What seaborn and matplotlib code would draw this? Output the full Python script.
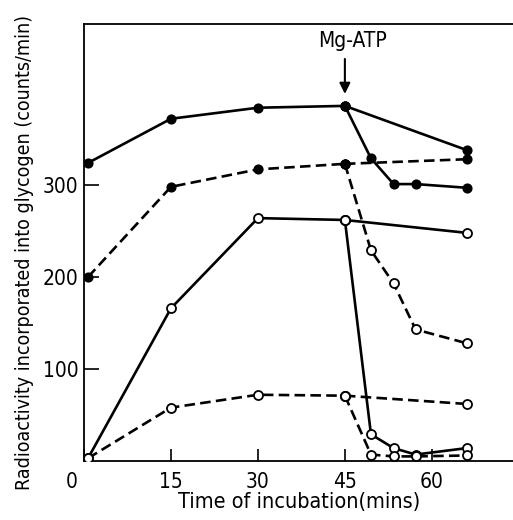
import matplotlib
matplotlib.use("Agg")
import matplotlib.pyplot as plt
import matplotlib.transforms as mtransforms
import seaborn as sns
import pandas as pd

# ---- data ----
t_pre = [0.7, 15, 30, 45]
t_ctrl = [45, 66]
t_atp = [45, 49.5, 53.4, 57.2, 66]

# series A: solid line, filled markers
a_pre = [324, 372, 384, 386]
a_ctrl = [386, 338]
a_atp = [386, 329, 301, 301, 297]
# series B: dashed line, filled markers (ATP branch open)
b_pre = [200, 298, 317, 323]
b_ctrl = [323, 328]
b_atp = [323, 229, 193, 143, 128]
# series C: solid line, open markers
c_pre = [3, 166, 264, 262]
c_ctrl = [262, 248]
c_atp = [262, 29, 14, 7, 14]
# series D: dashed line, open markers
d_pre = [3, 58, 72, 71]
d_ctrl = [71, 62]
d_atp = [71, 7, 5, 5, 6]

x_ticks = [0, 15, 30, 45, 60]
y_ticks = [100, 200, 300]

sns.set_style("ticks")
plt.rcParams['font.family'] = ['DejaVu Sans']
plt.rcParams['font.stretch'] = 'condensed'
plt.rcParams['text.color'] = 'black'
plt.rcParams['xtick.color'] = 'black'
plt.rcParams['ytick.color'] = 'black'

fig = plt.figure(figsize=(5.13, 5.20), dpi=100)
ax = fig.add_axes([84/513, 59/520, 1 - 84/513, (461 - 24)/520])

LW = 1.9
DASH = (4, 2)

def seg(x, y, dashed, fill, open_from=None):
    df = pd.DataFrame({"x": x, "y": y})
    if dashed:
        sns.lineplot(data=df, x="x", y="y", ax=ax, sort=False, color="black",
                     lw=LW, estimator=None, linestyle=(0, DASH))
    else:
        sns.lineplot(data=df, x="x", y="y", ax=ax, sort=False, color="black",
                     lw=LW, estimator=None)
    for i, (xi, yi) in enumerate(zip(x, y)):
        filled = fill
        if open_from is not None and i >= open_from:
            filled = False
        ax.plot([xi], [yi], marker="o", ms=6.5 if not filled else 6,
                mfc="black" if filled else "white", mec="black", mew=1.3,
                zorder=5, ls="none")

seg(t_pre, a_pre, False, True)
seg(t_ctrl, a_ctrl, False, True)
seg(t_atp, a_atp, False, True)

seg(t_pre, b_pre, True, True)
seg(t_ctrl, b_ctrl, True, True)
seg(t_atp, b_atp, True, True, open_from=1)

seg(t_pre, c_pre, False, False)
seg(t_ctrl, c_ctrl, False, False)
seg(t_atp, c_atp, False, False)

seg(t_pre, d_pre, True, False)
seg(t_ctrl, d_ctrl, True, False)
seg(t_atp, d_atp, True, False)

ax.set_xlim(0, 74)
ax.set_ylim(0, 475)
ax.set_xticks(x_ticks)
ax.set_xticklabels([str(v) for v in x_ticks])
ax.set_yticks(y_ticks)
ax.set_yticklabels([str(v) for v in y_ticks])
ax.tick_params(axis="x", direction="in", length=8.5, width=1.2, labelsize=15, pad=8, colors="black")
ax.tick_params(axis="y", direction="in", length=11, width=1.2, labelsize=15, pad=4, colors="black")
ax.set_xlabel("")
ax.set_ylabel("")

# shift the "0" label left as in the reference
lbl0 = ax.get_xticklabels()[0]
lbl0.set_transform(lbl0.get_transform() + mtransforms.ScaledTranslation(-0.12, 0, fig.dpi_scale_trans))

for s in ["left", "bottom", "top"]:
    ax.spines[s].set_linewidth(1.3)
    ax.spines[s].set_color("black")
ax.spines["right"].set_visible(False)

# Mg-ATP annotation
ax.annotate("", xy=(45, 396), xytext=(45, 440),
            arrowprops=dict(arrowstyle="-|>", lw=1.5, color="black", mutation_scale=16))
ax.text(46.4, 456, "Mg-ATP", ha="center", va="center", fontsize=15)

fig.text(25/513, 1 - 252/520, "Radioactivity incorporated into glycogen (counts/min)",
         rotation=90, ha="center", va="center", fontsize=14)
fig.text(299/513, 1 - 502/520, "Time of incubation(mins)", ha="center", va="center", fontsize=15.5)

fig.savefig("out.png", dpi=100)
